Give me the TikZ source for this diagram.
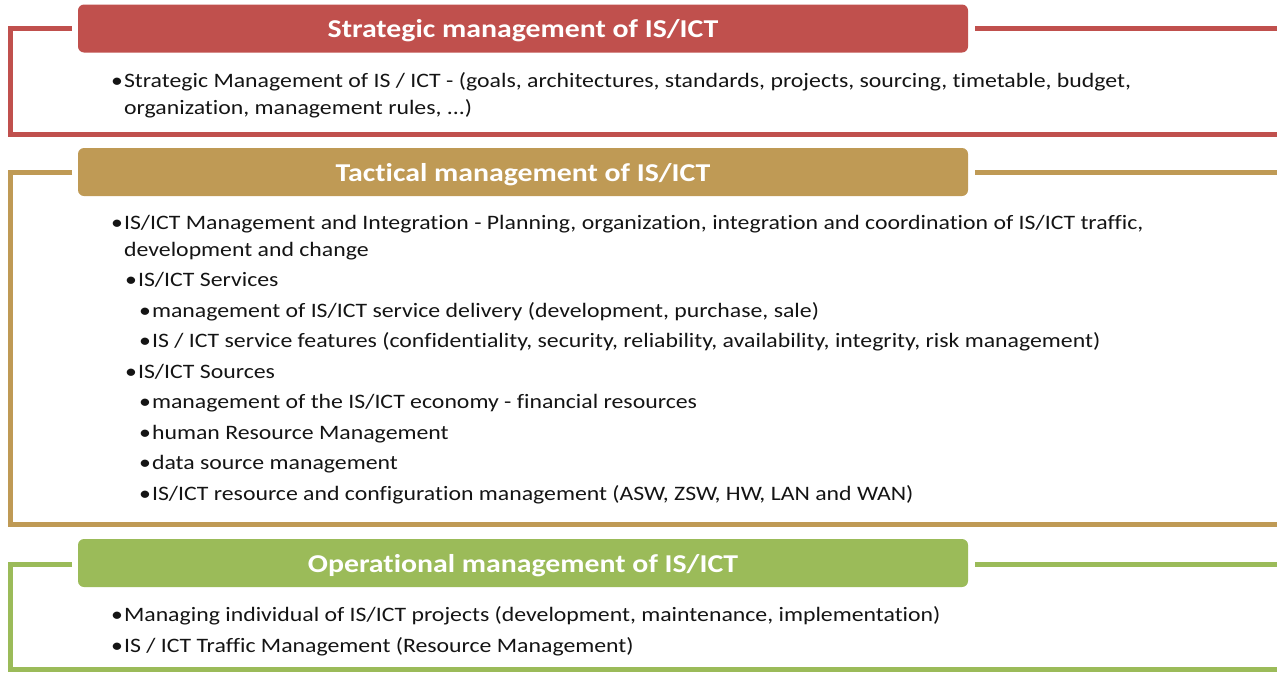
\documentclass[tikz,border=0pt]{standalone}
\usepackage{fontspec}
\setmainfont{Carlito}[FakeStretch=1.16, Ligatures={NoCommon}]
\definecolor{cred}{HTML}{C0504D}
\definecolor{cgold}{HTML}{BF9A55}
\definecolor{cgreen}{HTML}{9BBB59}
\definecolor{ctext}{HTML}{141414}
\tikzset{
  hdr/.style={fill=#1, rounded corners=6pt, minimum width=890pt, minimum height=48pt, inner sep=0pt},
  hdrtxt/.style={anchor=base, inner sep=0pt, text=white, font=\fontsize{25.7}{30}\selectfont\bfseries},
  frm/.style={draw=#1, line width=5pt},
  itm/.style={anchor=base west, inner sep=0pt, text=ctext, font=\fontsize{20.5}{24}\selectfont},
}
\begin{document}
\begin{tikzpicture}[x=1pt,y=-1pt]
\useasboundingbox (0,0) rectangle (1277,672);
% ---- Strategic
\node[hdr=cred] (h1) at (523,28.5) {};
\node[hdrtxt] (h1t) at (523,37) {Strategic management of IS/ICT};
\coordinate (s1a) at (72,28);
\coordinate (s1b) at (975,28);
\coordinate (e1a) at (1277,28);
\coordinate (e1b) at (1277,134.5);
\draw[frm=cred] (s1a) -- (10.5,28) -- (10.5,134.5) -- (e1b);
\draw[frm=cred] (s1b) -- (e1a);
\node[itm] (t1) at (111,87) {•\hspace{1pt}Strategic Management of IS / ICT - (goals, architectures, standards, projects, sourcing, timetable, budget,};
\node[itm] (t2) at (124,114) {organization, management rules, ...)};
% ---- Tactical
\node[hdr=cgold] (h2) at (523,172) {};
\node[hdrtxt] (h2t) at (523,181) {Tactical management of IS/ICT};
\coordinate (s2a) at (72,172.5);
\coordinate (s2b) at (975,172.5);
\coordinate (e2a) at (1277,172.5);
\coordinate (e2b) at (1277,524.5);
\draw[frm=cgold] (s2a) -- (10.5,172.5) -- (10.5,524.5) -- (e2b);
\draw[frm=cgold] (s2b) -- (e2a);
\node[itm] (u1) at (111,229) {•\hspace{1pt}IS/ICT Management and Integration - Planning, organization, integration and coordination of IS/ICT traffic,};
\node[itm] (u2) at (124,256) {development and change};
\node[itm] (u3) at (125,286) {•\hspace{1pt}IS/ICT Services};
\node[itm] (u4) at (139,317) {•\hspace{1pt}management of IS/ICT service delivery (development, purchase, sale)};
\node[itm] (u5) at (139,347) {•\hspace{1pt}IS / ICT service features (confidentiality, security, reliability, availability, integrity, risk management)};
\node[itm] (u6) at (125,378) {•\hspace{1pt}IS/ICT Sources};
\node[itm] (u7) at (139,408) {•\hspace{1pt}management of the IS/ICT economy - financial resources};
\node[itm] (u8) at (139,439) {•\hspace{1pt}human Resource Management};
\node[itm] (u9) at (139,469) {•\hspace{1pt}data source management};
\node[itm] (u10) at (139,500) {•\hspace{1pt}IS/ICT resource and configuration management (ASW, ZSW, HW, LAN and WAN)};
% ---- Operational
\node[hdr=cgreen] (h3) at (523,563) {};
\node[hdrtxt] (h3t) at (523,572) {Operational management of IS/ICT};
\coordinate (s3a) at (72,564.5);
\coordinate (s3b) at (975,564.5);
\coordinate (e3a) at (1277,564.5);
\coordinate (e3b) at (1277,669.5);
\draw[frm=cgreen] (s3a) -- (10.5,564.5) -- (10.5,669.5) -- (e3b);
\draw[frm=cgreen] (s3b) -- (e3a);
\node[itm] (v1) at (111,621) {•\hspace{1pt}Managing individual of IS/ICT projects (development, maintenance, implementation)};
\node[itm] (v2) at (111,652) {•\hspace{1pt}IS / ICT Traffic Management (Resource Management)};
\end{tikzpicture}
\end{document}
